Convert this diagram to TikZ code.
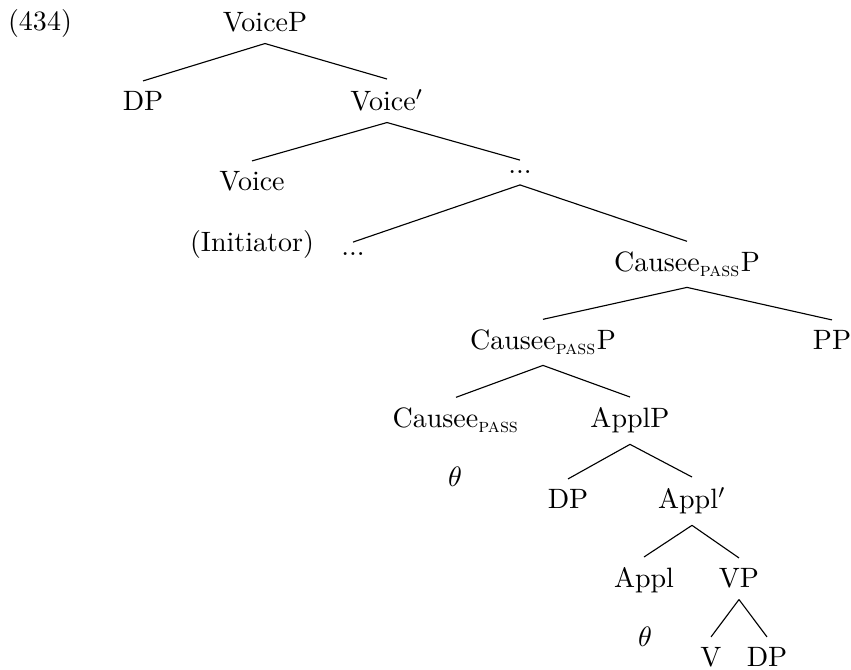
\documentclass[tikz,border=0pt]{standalone}
\usepackage{amsmath,amssymb}
\usepackage{tikz}

\begin{document}
\begin{tikzpicture}[x=0.357pt, y=-0.357pt, every node/.style={inner sep=3.7pt, anchor=base}]
    \useasboundingbox (0,0) rectangle (851,670);

    % Example number
    \node (exnum) at (40,31) {(434)};

    % Voice layer
    \node (voicep) at (265,32) {VoiceP};
    \node (dpa) at (143,111) {DP};
    \node (voicebar) at (387,111) {Voice$'$};
    \node (voice) at (252,191) {Voice};
    \node (dotsa) at (520,174) {...};
    \node (initiator) at (252,252) {(Initiator)};
    \node (dotsb) at (353,256) {...};

    % Causee layer
    \node (causeepa) at (687,272) {Causee$_{\text{\textsc{pass}}}$P};
    \node (causeepb) at (543,350) {Causee$_{\text{\textsc{pass}}}$P};
    \node (pp) at (832,350) {PP};
    \node (causee) at (456,428) {Causee$_{\text{\textsc{pass}}}$};
    \node (applp) at (630,428) {ApplP};
    \node (thetaa) at (455,487) {$\theta$};

    % Applicative layer
    \node (dpb) at (568,509) {DP};
    \node (applbar) at (692,509) {Appl$'$};
    \node (appl) at (644,588) {Appl};
    \node (vp) at (739,588) {VP};
    \node (thetab) at (645,647) {$\theta$};
    \node (v) at (711,667) {V};
    \node (dpc) at (767,667) {DP};

    % Branches
    \foreach \p/\c in {voicep/dpa, voicep/voicebar, voicebar/voice, voicebar/dotsa,
                       dotsa/dotsb, dotsa/causeepa, causeepa/causeepb, causeepa/pp,
                       causeepb/causee, causeepb/applp, applp/dpb, applp/applbar,
                       applbar/appl, applbar/vp, vp/v, vp/dpc} {
        \draw (\p.south) -- (\c.north);
    }
\end{tikzpicture}
\end{document}
